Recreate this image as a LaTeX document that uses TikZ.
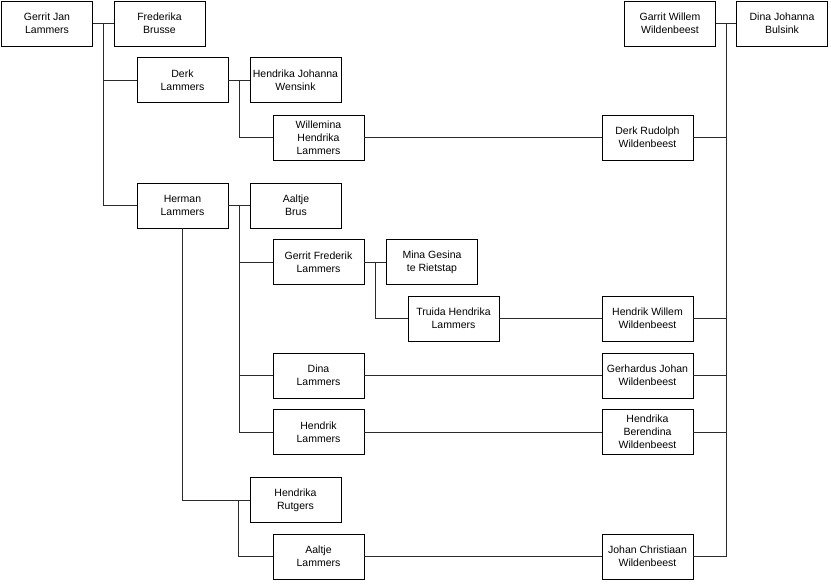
\documentclass[tikz,border=0pt]{standalone}
\usepackage{fontspec}
\setmainfont{Liberation Sans}
\usepackage{xcolor}
\definecolor{fLine}{HTML}{2B2B2B}
\usetikzlibrary{calc}

\begin{document}
\begin{tikzpicture}[
  x=1pt, y=-1pt,
  every node/.style={font=\fontsize{10.5}{13}\selectfont},
  person/.style={rectangle, draw=black, fill=white, line width=0.9pt,
                 minimum width=91pt, minimum height=45pt, align=center,
                 inner sep=1pt},
  link/.style={draw=fLine, line width=0.8pt}
]
\useasboundingbox (0,0) rectangle (831,586);

% Lammers side
\node[person] (gerritJan)  at ( 47.0, 23.5) {Gerrit Jan\\Lammers};
\node[person] (frederika)  at (159.5, 23.5) {Frederika\\Brusse};
\node[person] (derk)       at (182.5, 80.0) {Derk\\Lammers};
\node[person] (wensink)    at (295.5, 80.0) {Hendrika Johanna\\Wensink};
\node[person] (willemina)  at (318.5,137.5) {Willemina\\Hendrika\\Lammers};
\node[person] (herman)     at (182.5,205.5) {Herman\\Lammers};
\node[person] (aaltjeBrus) at (296.0,205.5) {Aaltje\\Brus};
\node[person] (gerritFred) at (318.5,262.0) {Gerrit Frederik\\Lammers};
\node[person] (mina)       at (432.0,262.0) {Mina Gesina\\te Rietstap};
\node[person] (truida)     at (453.5,318.5) {Truida Hendrika\\Lammers};
\node[person] (dina)       at (318.5,375.5) {Dina\\Lammers};
\node[person] (hendrik)    at (318.5,432.0) {Hendrik\\Lammers};
\node[person] (rutgers)    at (295.5,500.0) {Hendrika\\Rutgers};
\node[person] (aaltjeL)    at (318.5,556.5) {Aaltje\\Lammers};

% Wildenbeest side
\node[person] (garrit)      at (670.0, 23.5) {Garrit Willem\\Wildenbeest};
\node[person] (dinaJoh)     at (782.0, 23.5) {Dina Johanna\\Bulsink};
\node[person] (derkRud)     at (647.5,137.5) {Derk Rudolph\\Wildenbeest};
\node[person] (hendrikWil)  at (647.5,318.5) {Hendrik Willem\\Wildenbeest};
\node[person] (gerhardus)   at (647.5,375.5) {Gerhardus Johan\\Wildenbeest};
\node[person] (berendina)   at (647.5,432.0) {Hendrika\\Berendina\\Wildenbeest};
\node[person] (johanChr)    at (647.5,556.5) {Johan Christiaan\\Wildenbeest};

% couples and their junctions
\draw[link] (gerritJan) -- (frederika);
\coordinate (jGerrit) at ($(gerritJan.east)!0.5!(frederika.west)$);
\draw[link] (derk) -- (wensink);
\coordinate (jDerk) at ($(derk.east)!0.5!(wensink.west)$);
\draw[link] (herman) -- (aaltjeBrus);
\coordinate (jHerman) at ($(herman.east)!0.5!(aaltjeBrus.west)$);
\draw[link] (gerritFred) -- (mina);
\coordinate (jGerritFred) at ($(gerritFred.east)!0.5!(mina.west)$);
\coordinate (jRutgers) at ($(rutgers.west)+(-11,0)$);
\draw[link] (garrit) -- (dinaJoh);
\coordinate (jGarrit) at ($(garrit.east)!0.5!(dinaJoh.west)$);

% children
\foreach \kid in {derk, herman}
  \draw[link] (jGerrit) |- (\kid.west);
\draw[link] (jDerk) |- (willemina.west);
\foreach \kid in {gerritFred, dina, hendrik}
  \draw[link] (jHerman) |- (\kid.west);
\draw[link] (jGerritFred) |- (truida.west);
\draw[link] (herman.south) |- (rutgers.west);
\draw[link] (jRutgers) |- (aaltjeL.west);
\foreach \kid in {derkRud, hendrikWil, gerhardus, berendina, johanChr}
  \draw[link] (jGarrit) |- (\kid.east);

% marriages between the two families
\foreach \a/\b in {willemina/derkRud, truida/hendrikWil, dina/gerhardus,
                   hendrik/berendina, aaltjeL/johanChr}
  \draw[link] (\a) -- (\b);
\end{tikzpicture}
\end{document}
